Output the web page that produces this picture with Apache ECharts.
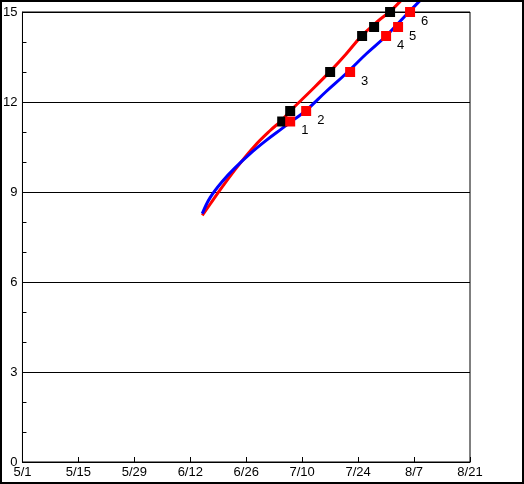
<!DOCTYPE html>
<html>
<head>
<meta charset="utf-8">
<script src="https://cdn.jsdelivr.net/npm/echarts@6/dist/echarts.min.js"></script>
<style>
html,body{margin:0;padding:0;background:#fff;}
#c{width:524px;height:484px;}
</style>
</head>
<body>
<div id="c"></div>
<script>
// ---- data ----
const xTickLabels = ['5/1','5/15','5/29','6/12','6/26','7/10','7/24','8/7','8/21'];
const yTickLabels = [0, 3, 6, 9, 12, 15];

const blueDates  = ['6/15','6/17','6/20','6/23','6/27','7/1','7/5','7/8','7/11','7/16','7/21','7/26','7/31','8/5','8/9'];
const blueValues = [8.28, 8.82, 9.35, 9.78, 10.28, 10.72, 11.12, 11.42, 11.72, 12.35, 12.95, 13.6, 14.2, 14.9, 15.45];

const redDates  = ['6/15','6/17','6/20','6/24','6/28','7/2','7/5','7/7','7/12','7/17','7/21','7/25','7/29','8/1','8/4'];
const redValues = [8.22, 8.6, 9.17, 9.88, 10.52, 11.05, 11.4, 11.7, 12.35, 13.02, 13.6, 14.22, 14.7, 15.02, 15.42];

const blackSquareDates  = ['7/5','7/7','7/17','7/25','7/28','8/1'];
const blackSquareValues = [11.35, 11.7, 13.0, 14.2, 14.5, 15.0];

const redSquareDates  = ['7/7','7/11','7/22','7/31','8/3','8/6'];
const redSquareValues = [11.35, 11.7, 13.0, 14.2, 14.5, 15.0];
const redSquareLabels = ['1','2','3','4','5','6'];

// ---- helpers ----
const monthStart = {5: 0, 6: 31, 7: 61, 8: 92, 9: 123};
function dayOf(s){ const [m,d] = s.split('/').map(Number); return monthStart[m] + d - 1; }
function labelOf(day){
  const ms = [5,6,7,8,9];
  for (let i = ms.length - 1; i >= 0; i--) {
    if (day >= monthStart[ms[i]]) return ms[i] + '/' + (day - monthStart[ms[i]] + 1);
  }
  return '';
}
const xMin = dayOf(xTickLabels[0]);
const xMax = dayOf(xTickLabels[xTickLabels.length - 1]);
const pair = (ds, vs) => ds.map((d, i) => [dayOf(d), vs[i]]);

const font = 'Liberation Sans';
const chart = echarts.init(document.getElementById('c'), null, {renderer: 'canvas'});
chart.setOption({
  animation: false,
  backgroundColor: '#ffffff',
  grid: {left: 22, top: 12, right: 54, bottom: 22, show: true, borderColor: '#000', borderWidth: 1, backgroundColor: 'transparent'},
  graphic: [{
    type: 'rect', shape: {x: 1, y: 1, width: 522, height: 482},
    style: {fill: 'none', stroke: '#000', lineWidth: 2}, z: 100, silent: true
  }],
  xAxis: {
    type: 'value', min: xMin, max: xMax, interval: 14,
    axisLine: {lineStyle: {color: '#000', width: 1}},
    axisTick: {show: true, inside: true, length: 5, lineStyle: {color: '#000'}},
    splitLine: {show: false},
    axisLabel: {color: '#000', fontFamily: font, fontSize: 13, margin: 4, formatter: v => labelOf(v)}
  },
  yAxis: {
    type: 'value', min: yTickLabels[0], max: yTickLabels[yTickLabels.length - 1], interval: 3,
    axisLine: {show: true, lineStyle: {color: '#000', width: 1}},
    axisTick: {show: true, inside: true, length: 4, lineStyle: {color: '#000'}},
    minorTick: {show: true, splitNumber: 3, length: 4, lineStyle: {color: '#000'}},
    splitLine: {show: true, lineStyle: {color: '#000', width: 1}},
    axisLabel: {color: '#000', fontFamily: font, fontSize: 13, margin: 5}
  },
  series: [
    {type: 'line', data: pair(redDates, redValues), smooth: 0.4, showSymbol: false, clip: false,
     lineStyle: {color: '#ff0000', width: 3}, z: 2},
    {type: 'line', data: pair(blueDates, blueValues), smooth: 0.4, showSymbol: false, clip: false,
     lineStyle: {color: '#0000ff', width: 3}, z: 3},
    {type: 'scatter', data: pair(blackSquareDates, blackSquareValues), symbol: 'rect', symbolSize: 10, clip: false,
     itemStyle: {color: '#000', opacity: 1}, z: 4},
    {type: 'scatter', data: pair(redSquareDates, redSquareValues), symbol: 'rect', symbolSize: 10, clip: false,
     itemStyle: {color: '#ff0000', opacity: 1}, z: 5,
     label: {show: true, position: 'right', distance: 6, offset: [0, 9], color: '#000', fontFamily: font, fontSize: 13,
             formatter: p => redSquareLabels[p.dataIndex]}}
  ]
});
</script>
</body>
</html>
